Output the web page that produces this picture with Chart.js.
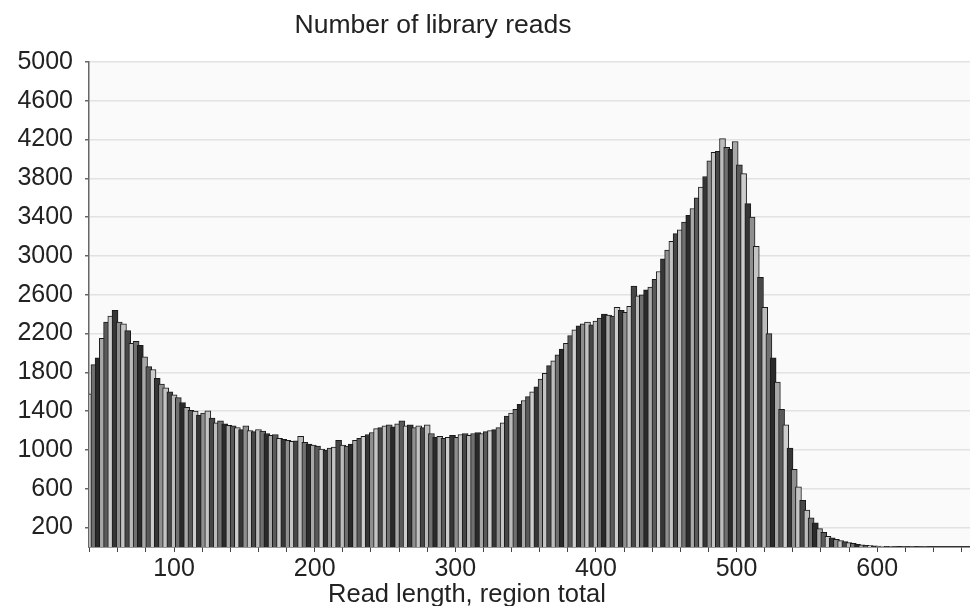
<!DOCTYPE html>
<html>
<head>
<meta charset="utf-8">
<script src="https://cdn.jsdelivr.net/npm/chart.js@4/dist/chart.umd.min.js"></script>
<style>
  html, body { margin: 0; padding: 0; background: #ffffff; }
  #wrap { width: 970px; height: 606px; }
</style>
</head>
<body>
<div id="wrap"><canvas id="hist" width="970" height="606"></canvas></div>
<script>
// Read length bins (bp) and the number of library reads in each bin
const readLengths = [];
for (let len = 40; len <= 664; len += 3) readLengths.push(len);

const readCounts = [
  1580, 1880, 1950, 2150, 2320, 2380, 2440, 2320, 2300, 2230,
  2100, 2120, 2080, 1960, 1860, 1830, 1740, 1680, 1640, 1600,
  1570, 1540, 1490, 1440, 1410, 1400, 1360, 1380, 1405, 1330,
  1280, 1300, 1270, 1255, 1250, 1230, 1210, 1250, 1200, 1190,
  1210, 1195, 1170, 1150, 1160, 1120, 1110, 1100, 1090, 1095,
  1140, 1080, 1060, 1050, 1040, 1010, 1000, 1020, 1030, 1100,
  1050, 1040, 1060, 1100, 1120, 1140, 1160, 1180, 1220, 1230,
  1250, 1260, 1240, 1270, 1300, 1250, 1260, 1230, 1250, 1230,
  1260, 1170, 1130, 1140, 1120, 1130, 1150, 1130, 1160, 1170,
  1150, 1170, 1180, 1170, 1190, 1200, 1210, 1230, 1280, 1350,
  1380, 1420, 1470, 1510, 1550, 1600, 1650, 1730, 1790, 1870,
  1920, 1980, 2040, 2100, 2180, 2240, 2280, 2300, 2320, 2290,
  2330, 2360, 2400, 2390, 2380, 2470, 2440, 2420, 2480, 2690,
  2590, 2600, 2650, 2680, 2760, 2840, 2970, 3060, 3150, 3230,
  3270, 3350, 3420, 3490, 3600, 3710, 3820, 3980, 4070, 4080,
  4210, 4120, 4100, 4180, 3940, 3850, 3540, 3400, 3100, 2780,
  2470, 2200, 1950, 1700, 1420, 1260, 1020, 800, 620, 480,
  380, 300, 250, 190, 150, 110, 95, 80, 65, 55,
  45, 38, 28, 22, 18, 14, 11, 9, 8, 7,
  6, 5, 4, 3, 2, 2, 1, 1, 1, 1,
  0, 0, 0, 0, 0, 0, 0, 0, 0, 0,
  0, 0, 0, 0, 0, 0, 0, 0, 0, 0
];

const yTickValues = [200, 600, 1000, 1400, 1800, 2200, 2600, 3000, 3400, 3800, 4200, 4600, 5000];
const xTickValues = [];
for (let v = 40; v <= 660; v += 20) xTickValues.push(v);
const xLabelled = [100, 200, 300, 400, 500, 600];

const chartTitle = 'Number of library reads';
const xAxisTitle = 'Read length, region total';

// Gray fills cycled across neighbouring bars
const barShades = ['#bcbcbc', '#707070', '#2a2a2a', '#a8a8a8', '#5a5a5a', '#cdcdcd', '#363636', '#8f8f8f', '#c4c4c4', '#474747'];

const FONT = '"Liberation Sans", Arial, Helvetica, sans-serif';

const plotBackground = {
  id: 'plotBackground',
  beforeDraw(chart) {
    const { ctx, chartArea: a } = chart;
    ctx.save();
    ctx.fillStyle = '#fafafa';
    ctx.fillRect(a.left, a.top, a.right - a.left, a.bottom - a.top);
    ctx.restore();
  }
};

const titles = {
  id: 'titles',
  afterDraw(chart) {
    const { ctx } = chart;
    ctx.save();
    ctx.fillStyle = '#222222';
    ctx.textAlign = 'center';
    ctx.textBaseline = 'alphabetic';
    ctx.font = '26.5px ' + FONT;
    ctx.fillText(chartTitle, 433, 33);
    ctx.font = '25.5px ' + FONT;
    ctx.fillText(xAxisTitle, 467, 602);
    ctx.restore();
  }
};

new Chart(document.getElementById('hist'), {
  type: 'bar',
  data: {
    datasets: [{
      data: readLengths.map((len, i) => ({ x: len, y: readCounts[i] })),
      backgroundColor: c => barShades[c.dataIndex % barShades.length],
      borderColor: '#1a1a1a',
      borderWidth: 1,
      barThickness: 6
    }]
  },
  options: {
    responsive: false,
    maintainAspectRatio: false,
    animation: false,
    layout: { padding: { top: 62, right: 0, left: 0, bottom: 0 } },
    plugins: {
      legend: { display: false },
      tooltip: { enabled: false },
      title: { display: false }
    },
    scales: {
      x: {
        type: 'linear',
        min: 39.5,
        max: 666,
        offset: false,
        afterBuildTicks: s => { s.ticks = xTickValues.map(v => ({ value: v })); },
        afterFit: s => { s.height = 59; },
        grid: { offset: false, drawOnChartArea: false, drawTicks: true, tickLength: 5, tickColor: '#444444', color: '#444444' },
        border: { color: '#333333', width: 1.5 },
        ticks: {
          autoSkip: false,
          maxRotation: 0,
          padding: 2,
          color: '#222222',
          font: { family: FONT, size: 25 },
          callback: v => (xLabelled.includes(v) ? String(v) : '')
        }
      },
      y: {
        min: 0,
        max: 5000,
        afterBuildTicks: s => { s.ticks = yTickValues.map(v => ({ value: v })); },
        afterFit: s => { s.width = 89; },
        grid: { color: '#e2e2e2', lineWidth: 1.5, tickLength: 4, tickColor: '#666666' },
        border: { color: '#666666', width: 1.5 },
        ticks: {
          autoSkip: false,
          padding: 12,
          color: '#222222',
          font: { family: FONT, size: 25 },
          callback: v => String(v)
        }
      }
    }
  },
  plugins: [plotBackground, titles]
});
</script>
</body>
</html>
